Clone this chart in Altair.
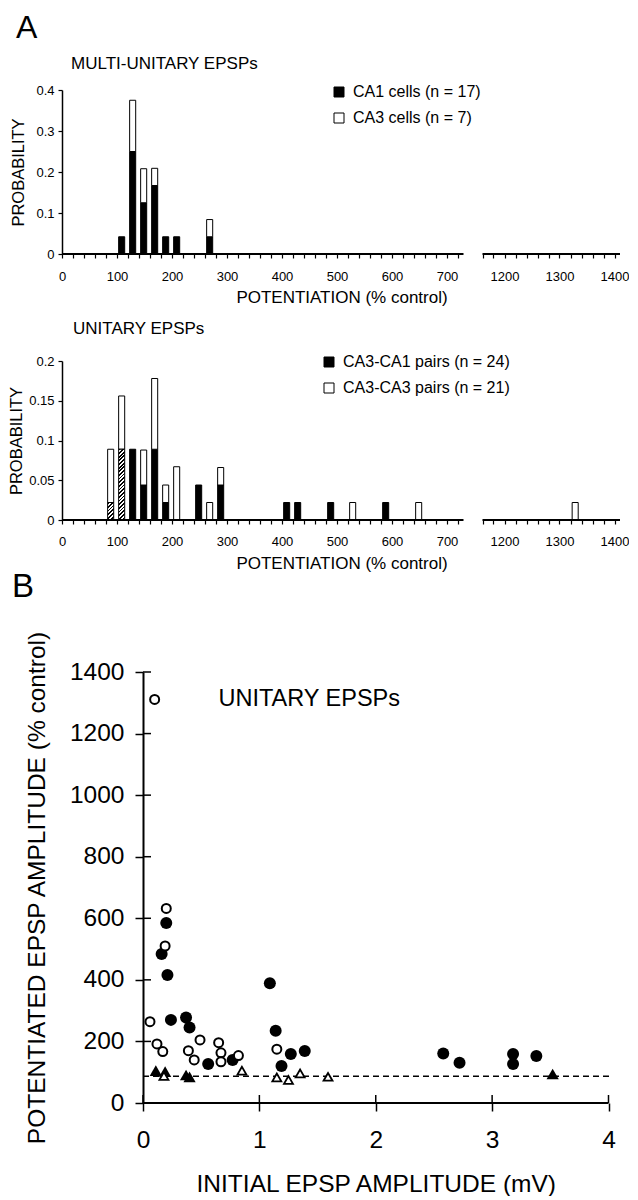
import altair as alt
import pandas as pd

FONT = "Liberation Sans"

# ------------------------------------------------------------------ data
# Panel A, top: MULTI-UNITARY EPSPs (probability per 20 % bin, keyed by bin start)
multi_bins = [100, 120, 140, 160, 180, 200, 260]
multi_ca1 = [0.042, 0.25, 0.125, 0.167, 0.042, 0.042, 0.042]
multi_ca3 = [0.0, 0.125, 0.083, 0.042, 0.0, 0.0, 0.042]
multi_series = ["CA1 cells (n = 17)", "CA3 cells (n = 7)"]
multi_yticks = [0, 0.1, 0.2, 0.3, 0.4]

# Panel A, bottom: UNITARY EPSPs
uni_bins = [80, 100, 120, 140, 160, 180, 200, 240, 260, 280, 400, 420, 480, 520, 580, 640, 1320]
uni_hatched = [0.022, 0.089, 0, 0, 0, 0, 0, 0, 0, 0, 0, 0, 0, 0, 0, 0, 0]
uni_ca1 = [0, 0, 0.089, 0.044, 0.089, 0.022, 0, 0.044, 0, 0.044, 0.022, 0.022, 0.022, 0, 0.022, 0, 0]
uni_ca3 = [0.067, 0.067, 0, 0.044, 0.089, 0.022, 0.067, 0, 0.022, 0.022, 0, 0, 0, 0.022, 0, 0.022, 0.022]
uni_series = ["CA3-CA1 pairs (n = 24)", "CA3-CA3 pairs (n = 21)"]
uni_yticks = [0, 0.05, 0.1, 0.15, 0.2]

left_xticks = list(range(0, 721, 20))
right_xticks = list(range(1160, 1401, 20))

# Panel B: initial amplitude (mV) vs potentiated amplitude (% control)
ca1_x = [0.20, 0.16, 0.21, 0.24, 0.37, 0.40, 0.56, 0.77, 1.09, 1.14, 1.27, 1.39, 1.19, 2.58, 2.72, 3.18, 3.18, 3.38]
ca1_y = [585, 484, 416, 270, 278, 245, 127, 140, 389, 235, 159, 169, 120, 161, 131, 159, 127, 153]
ca3_x = [0.10, 0.20, 0.19, 0.06, 0.49, 0.12, 0.17, 0.39, 0.44, 0.65, 0.67, 0.67, 0.82, 1.15]
ca3_y = [1311, 632, 510, 264, 205, 192, 167, 170, 140, 196, 163, 134, 154, 175]
ca1_fail_x = [0.11, 0.19, 0.37, 0.40, 3.52]
ca1_fail_y = [105, 102, 91, 85, 94]
ca3_fail_x = [0.18, 0.85, 1.15, 1.25, 1.35, 1.59]
ca3_fail_y = [88, 105, 83, 75, 96, 85]
sc_baseline = [87]
sc_xticks = [0, 1, 2, 3, 4]
sc_yticks = [0, 200, 400, 600, 800, 1000, 1200, 1400]

# ------------------------------------------------------------------ geometry / style
PX = 0.55                      # px per % unit in panel A
LEFT_DOM = [0, 730]
RIGHT_DOM = [1160, 1410]
GAP = 19                       # px gap of the broken axis
OFF = LEFT_DOM[1] + GAP / PX - RIGHT_DOM[0]   # display shift of the right-hand segment
RAW_SPLIT = (LEFT_DOM[1] + RIGHT_DOM[0]) / 2
DISP_SPLIT = LEFT_DOM[1] + GAP / PX / 2
DISP_MAX = RIGHT_DOM[1] + OFF
HW = DISP_MAX * PX
BAR_L, BAR_R = 3, 14
H1, H2 = 164, 159

X0 = 81                        # px from the panel-A y axis to the panel-B y axis
SW, SH = 465.5, 431
PXM = SW / 4


def disp_expr(f):
    return f"datum.{f} > {RAW_SPLIT} ? datum.{f} + ({OFF}) : datum.{f}"


def stacked(bins, layers):
    rows = []
    for i, b in enumerate(bins):
        base = 0.0
        for name, vals in layers:
            v = vals[i]
            if v > 0:
                rows.append({"lo": b + BAR_L, "hi": b + BAR_R, "y0": base, "y1": base + v, "series": name})
                base += v
    return pd.DataFrame(rows, columns=["lo", "hi", "y0", "y1", "series"])


def hatch(w, h, period=2.6):
    c = (w + h) / (w * w + h * h)
    n = max(1, round((w + h) / (period * 2 ** 0.5)))
    stops = []
    for i in range(n):
        a, b, e = i / n, (i + 0.5) / n, (i + 1) / n
        stops += [
            alt.GradientStop(color="black", offset=a),
            alt.GradientStop(color="black", offset=b),
            alt.GradientStop(color="white", offset=b),
            alt.GradientStop(color="white", offset=e),
        ]
    return alt.LinearGradient(gradient="linear", stops=stops, x1=0, y1=0, x2=c * w, y2=c * h)


def text_layer(txt, x, y, size, align="left", baseline="alphabetic"):
    return alt.Chart(pd.DataFrame({"t": [txt]})).mark_text(
        align=align, baseline=baseline, fontSize=size, font=FONT, color="black"
    ).encode(text="t:N", x=alt.value(x), y=alt.value(y))


RAW_LABEL = f"round(datum.value > {DISP_SPLIT} ? datum.value - ({OFF}) : datum.value)"


def hist_panel(df, height, ymax, yticks, series, legend_pos, ytitle_pad, xlabel_pad, extras=()):
    xs = alt.Scale(domain=[0, DISP_MAX], nice=False, zero=False)
    ys = alt.Scale(domain=[0, ymax], nice=False, zero=True)
    xvals = left_xticks + [t + OFF for t in right_xticks]
    xaxis = alt.Axis(values=xvals, domain=False,
                     labelExpr=f"({RAW_LABEL}) % 100 === 0 ? '' + {RAW_LABEL} : ''",
                     tickSize=4, tickWidth=1.2, labelFontSize=13,
                     labelPadding=xlabel_pad, title=None, grid=False, labelFlush=False,
                     labelOverlap=False, labelAngle=0)
    yaxis = alt.Axis(values=yticks, format="~g", tickSize=4, tickWidth=1.2,
                     domainWidth=1.5, labelFontSize=13, labelPadding=4,
                     title="PROBABILITY", titleFontSize=16.5, titleFontWeight="normal",
                     titlePadding=ytitle_pad, grid=False)
    leg = alt.Legend(orient="none", legendX=legend_pos[0], legendY=legend_pos[1],
                     title=None, symbolType="square", symbolSize=100,
                     symbolStrokeColor="black", symbolStrokeWidth=1,
                     labelFontSize=16, labelFont=FONT, labelColor="black",
                     labelOffset=6, rowPadding=10, padding=0, labelLimit=0)
    sub = df[df["series"].isin(series)]
    bars = alt.Chart(sub).transform_calculate(
        lo_d=disp_expr("lo"), hi_d=disp_expr("hi")
    ).mark_rect(stroke="black", strokeWidth=1).encode(
        x=alt.X("lo_d:Q", scale=xs, axis=xaxis),
        x2="hi_d:Q",
        y=alt.Y("y0:Q", scale=ys, axis=yaxis),
        y2="y1:Q",
        fill=alt.Fill("series:N", scale=alt.Scale(domain=series, range=["black", "white"]), legend=leg),
    )
    layers = [bars]
    hat = df[df["series"] == "hatched"]
    for _, r in hat.iterrows():
        w = (r["hi"] - r["lo"]) * PX
        h = (r["y1"] - r["y0"]) / ymax * height
        layers.append(
            alt.Chart(pd.DataFrame([r.to_dict()])).transform_calculate(
                lo_d=disp_expr("lo"), hi_d=disp_expr("hi")
            ).mark_rect(fill=hatch(w, h), stroke="black", strokeWidth=1).encode(
                x=alt.X("lo_d:Q", scale=xs, axis=xaxis), x2="hi_d:Q",
                y=alt.Y("y0:Q", scale=ys, axis=yaxis), y2="y1:Q")
        )
    # the broken x-axis line: one segment per axis piece
    segs = pd.DataFrame({"a": [LEFT_DOM[0], RIGHT_DOM[0]], "b": [LEFT_DOM[1], RIGHT_DOM[1]]})
    layers.append(
        alt.Chart(segs).transform_calculate(a_d=disp_expr("a"), b_d=disp_expr("b")).mark_rule(
            color="black", strokeWidth=1.8).encode(
            x=alt.X("a_d:Q", scale=xs, axis=xaxis), x2="b_d:Q", y=alt.value(height))
    )
    layers += list(extras)
    return alt.layer(*layers).properties(width=HW, height=height)


def spacer(h):
    return alt.Chart(pd.DataFrame({"v": [0]})).mark_point(opacity=0).encode(
        x=alt.X("v:Q", axis=None), y=alt.Y("v:Q", axis=None)).properties(width=1, height=h)


multi_df = stacked(multi_bins, [(multi_series[0], multi_ca1), (multi_series[1], multi_ca3)])
uni_df = stacked(uni_bins, [("hatched", uni_hatched), (uni_series[0], uni_ca1), (uni_series[1], uni_ca3)])

HT = hist_panel(multi_df, H1, 0.4, multi_yticks, multi_series, (269, -6), 9, 12,
                extras=[text_layer("A", -46, -52, 32),
                        text_layer("MULTI-UNITARY EPSPs", 9, -21.5, 17),
                        text_layer("POTENTIATION (% control)", HW / 2 + 1, H1 + 48.5, 17, align="center")])
HB = hist_panel(uni_df, H2, 0.2, uni_yticks, uni_series, (259, -7), 4, 11,
                extras=[text_layer("UNITARY EPSPs", 11, -27.5, 17),
                        text_layer("POTENTIATION (% control)", HW / 2 + 1, H2 + 48.5, 17, align="center")])

# ------------------------------------------------------------------ panel B
sxs = alt.Scale(domain=[-X0 / PXM, 4], nice=False, zero=False)
sys_ = alt.Scale(domain=[0, 1400], nice=False)
sxaxis = alt.Axis(values=sc_xticks, format="d", domain=False, tickSize=8, tickWidth=1.5,
                  labelFontSize=24.5, labelPadding=17, title="INITIAL EPSP AMPLITUDE (mV)",
                  titleFontSize=24.5, titleFontWeight="normal", titlePadding=21, grid=False,
                  labelFlush=False, titleX=X0 + SW / 2, titleAnchor="middle")
syaxis = alt.Axis(values=sc_yticks, format="d", offset=-X0, tickSize=8, tickWidth=1.5,
                  domainWidth=2, labelFontSize=24.5, labelPadding=11,
                  title="POTENTIATED EPSP AMPLITUDE (% control)", titleFontSize=24.5,
                  titleFontWeight="normal", titlePadding=20, grid=False)


def pts(xv, yv, **mk):
    return alt.Chart(pd.DataFrame({"x": xv, "y": yv})).mark_point(opacity=1, **mk).encode(
        x=alt.X("x:Q", scale=sxs, axis=sxaxis), y=alt.Y("y:Q", scale=sys_, axis=syaxis))


x_line = alt.Chart(pd.DataFrame({"a": [sc_xticks[0]], "b": [sc_xticks[-1]]})).mark_rule(
    color="black", strokeWidth=2).encode(
    x=alt.X("a:Q", scale=sxs, axis=sxaxis), x2="b:Q", y=alt.value(SH))
base_line = alt.Chart(pd.DataFrame({"v": sc_baseline})).mark_rule(
    color="black", strokeWidth=1.5, strokeDash=[6, 4]).encode(
    y=alt.Y("v:Q", scale=sys_, axis=syaxis), x=alt.value(X0), x2=alt.value(X0 + SW + 4))
ytick_in = alt.Chart(pd.DataFrame({"v": sc_yticks})).mark_rule(color="black", strokeWidth=1.5).encode(
    y=alt.Y("v:Q", scale=sys_, axis=syaxis), x=alt.value(X0), x2=alt.value(X0 + 8))
xtick_in = alt.Chart(pd.DataFrame({"v": sc_xticks})).mark_rule(color="black", strokeWidth=1.5).encode(
    x=alt.X("v:Q", scale=sxs, axis=sxaxis), y=alt.value(SH), y2=alt.value(SH - 8))

SC = alt.layer(
    x_line, base_line, ytick_in, xtick_in,
    pts(ca1_x, ca1_y, shape="circle", filled=True, fill="black", stroke="black", strokeWidth=0, size=144),
    pts(ca1_fail_x, ca1_fail_y, shape="triangle-up", filled=True, fill="black", strokeWidth=0, size=150),
    pts(ca3_x, ca3_y, shape="circle", filled=True, fill="white", stroke="black", strokeWidth=2, size=81),
    pts(ca3_fail_x, ca3_fail_y, shape="triangle-up", filled=True, fill="white", stroke="black", strokeWidth=1.8, size=80),
    text_layer("UNITARY EPSPs", X0 + 75.5, 27, 23.5, baseline="middle"),
    text_layer("B", X0 - 131, -75, 33),
).properties(width=X0 + SW, height=SH)

chart = alt.vconcat(
    HT, spacer(107), HB, spacer(152), SC,
    spacing=0,
    bounds="flush",
).resolve_scale(fill="independent").resolve_legend(fill="independent").properties(
    padding={"left": 0, "top": 4, "right": 0, "bottom": 0}
).configure(font=FONT).configure_view(stroke=None).configure_axis(
    labelFont=FONT, titleFont=FONT, labelColor="black", titleColor="black",
    domainColor="black", tickColor="black", grid=False
).configure_text(font=FONT)

chart.save("out.html", embed_options={"renderer": "svg", "actions": False})
